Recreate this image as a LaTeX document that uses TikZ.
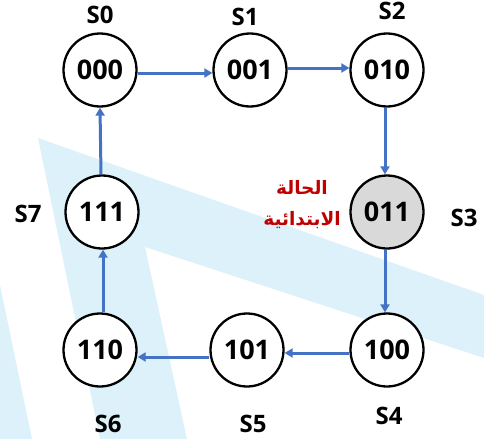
\documentclass[tikz,border=0pt]{standalone}
\usepackage{fontspec}
\setmainfont{Open Sans}
\newfontfamily\arabicfont[Script=Arabic]{DejaVu Sans}
\TeXXeTstate=1
\usetikzlibrary{arrows.meta}
\definecolor{wmblue}{HTML}{DDF1FA}
\definecolor{arrblue}{HTML}{4472C4}
\definecolor{redtxt}{HTML}{C00000}
\definecolor{startgray}{HTML}{D9D9D9}
\begin{document}
\begin{tikzpicture}[x=1pt,y=-1pt,
  state/.style={circle,draw=black,line width=2.3pt,minimum size=73pt,inner sep=0pt,
    font=\fontsize{27}{28}\selectfont\bfseries,fill=white},
  slabel/.style={font=\fontsize{24}{26}\selectfont\bfseries,inner sep=0pt},
  arabiclbl/.style={font=\arabicfont\fontsize{18.5}{20}\selectfont\bfseries,text=redtxt,inner sep=0pt},
  trans/.style={draw=arrblue,line width=3pt,-{Triangle[length=8pt,width=9pt]}}]
\useasboundingbox (0,0) rectangle (484,439);
% watermark
\fill[wmblue] (38,138) -- (484,295) -- (484,358) -- (145,247) -- (187,439) -- (100,439) -- cycle;
\fill[wmblue] (0,285) -- (32,439) -- (0,439) -- cycle;
% states
\node[state] (s0) at (100,70) {000};
\node[state] (s1) at (250,70) {001};
\node[state] (s2) at (387,70) {010};
\node[state,fill=startgray] (s3) at (387,212) {011};
\node[state] (s4) at (387,350) {100};
\node[state] (s5) at (247,350) {101};
\node[state] (s6) at (100,350) {110};
\node[state] (s7) at (102,212) {111};
% labels
\node[slabel] (l0) at (100,15) {S0};
\node[slabel] (l1) at (245,17) {S1};
\node[slabel] (l2) at (392,11) {S2};
\node[slabel] (l3) at (464,218) {S3};
\node[slabel] (l4) at (389,416) {S4};
\node[slabel] (l5) at (253,424) {S5};
\node[slabel] (l6) at (108,424) {S6};
\node[slabel] (l7) at (28,214) {S7};
\node[arabiclbl] (ar1) at (302,187) {\beginR الحالة\endR};
\node[arabiclbl] (ar2) at (302,220) {\beginR الابتدائية\endR};
% transitions
\draw[trans] ([yshift=-3pt]s0.east) -- ([yshift=-3pt]s1.west);
\draw[trans] ([yshift=2pt]s1.east) -- ([yshift=2pt]s2.west);
\draw[trans] ([xshift=-2pt]s2.south) -- ([xshift=-2pt]s3.north);
\draw[trans] ([xshift=-2pt]s3.south) -- ([xshift=-2pt]s4.north);
\draw[trans] ([yshift=-3pt]s4.west) -- ([yshift=-3pt]s5.east);
\draw[trans] ([yshift=-7pt]s5.west) -- ([yshift=-7pt]s6.east);
\draw[trans] ([xshift=3pt]s6.north) -- ([xshift=1pt]s7.south);
\draw[trans] ([xshift=-1pt]s7.north) -- (s0.south);
\end{tikzpicture}
\end{document}
